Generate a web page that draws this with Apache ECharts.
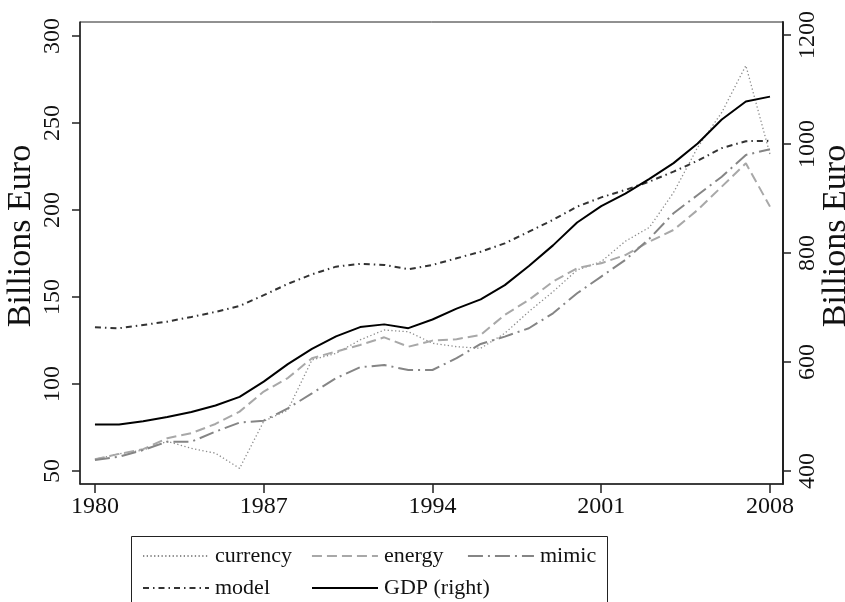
<!DOCTYPE html>
<html>
<head>
<meta charset="utf-8">
<script src="https://cdn.jsdelivr.net/npm/echarts@6/dist/echarts.min.js"></script>
<style>
  html, body { margin: 0; padding: 0; background: #fff; }
  #chart { width: 845px; height: 602px; }
</style>
</head>
<body>
<div id="chart"></div>
<script>
// years on the x axis
const years = [1980, 1981, 1982, 1983, 1984, 1985, 1986, 1987, 1988, 1989,
  1990, 1991, 1992, 1993, 1994, 1995, 1996, 1997, 1998, 1999,
  2000, 2001, 2002, 2003, 2004, 2005, 2006, 2007, 2008]

// left axis series (billions euro)
const currency = [56.7, 59.8, 62, 67, 63, 60.2, 51.5, 78.5, 85, 113.8,
  117.6, 125.3, 131, 130, 123.4, 121.4, 120.5, 129.1, 141.6, 153,
  165.5, 170.3, 182, 190, 210, 236, 256, 283, 232]
const energy = [56.7, 59.8, 62.5, 68.8, 71.7, 77, 84.1, 95.6, 103.4, 114.8,
  118.6, 122.4, 126.8, 121.4, 124.9, 125.7, 128.2, 139.7, 148.3, 158.8,
  166.5, 169.4, 174.1, 181.8, 188.5, 200, 213.4, 226.8, 201.9]
const mimic = [56.3, 58.2, 62, 66.8, 66.8, 72.6, 77.8, 78.9, 86, 94.6,
  103.3, 109.6, 110.9, 108, 108, 114.8, 123, 127.2, 132, 140.6,
  152.1, 161.7, 171.3, 183.5, 198.1, 208.6, 219.1, 231.6, 234.9]
const model = [132.6, 132, 133.9, 135.8, 138.5, 141.4, 144.8, 151, 157.5, 163,
  167.4, 169, 168.4, 165.9, 168.4, 172.2, 176, 180.8, 187.5, 194.3,
  201.9, 207.2, 211.5, 216.3, 222, 228.3, 235.5, 239.5, 239.7]

// right axis series
const gdp = [485, 485, 491, 499, 508, 520, 536, 564, 596, 624,
  647, 664, 669, 662, 678, 698, 715, 741, 776, 814,
  856, 886, 909, 936, 965, 1001, 1045, 1078, 1087]

// tick labels
const xTicks = [1980, 1987, 1994, 2001, 2008]
const leftTicks = [50, 100, 150, 200, 250, 300]
const rightTicks = [400, 600, 800, 1000, 1200]

const serif = '"Liberation Serif", "DejaVu Serif", serif'
const ink = '#222'

const pairs = arr => years.map((y, i) => [y, arr[i]])

const chart = echarts.init(document.getElementById('chart'))

const lineSeries = (name, data, color, width, dash, axis) => ({
  name, type: 'line', data: pairs(data), yAxisIndex: axis,
  symbol: 'none', silent: true,
  itemStyle: { color },
  lineStyle: { color, width, type: dash, cap: 'butt' }
})

const legendText = { fontFamily: serif, fontSize: 22, color: '#111', lineHeight: 24, padding: [0, 0, 0, 1] }

const option = {
  animation: false,
  backgroundColor: '#fff',
  grid: {
    left: 80, right: 62, top: 22, bottom: 118,
    outerBoundsMode: 'none', containLabel: false,
    show: true, borderColor: ink, borderWidth: 1
  },
  legend: [
    {
      data: ['currency', { name: 'energy', textStyle: { width: 64 } }, 'mimic'],
      left: 137, top: 539, itemWidth: 66, itemHeight: 14, itemGap: 19,
      itemStyle: { opacity: 0 },
      textStyle: legendText
    },
    {
      data: [{ name: 'model', textStyle: { width: 77 } }, 'GDP (right)'],
      left: 137, top: 571, itemWidth: 66, itemHeight: 14, itemGap: 19,
      itemStyle: { opacity: 0 },
      textStyle: legendText
    }
  ],
  graphic: [{
    type: 'rect', left: 129, top: 534, silent: true,
    shape: { width: 476, height: 90 },
    style: { fill: 'none', stroke: ink, lineWidth: 1 }
  }],
  xAxis: {
    type: 'value', min: 1979.38, max: 2008.54,
    axisLine: { show: true, onZero: false, lineStyle: { color: ink, width: 1.5 } },
    axisTick: { show: true, length: 9, customValues: xTicks, lineStyle: { color: ink, width: 1.5 } },
    axisLabel: { customValues: xTicks, margin: 11, fontFamily: serif, fontSize: 24, color: '#111', formatter: v => String(v) },
    splitLine: { show: false }
  },
  yAxis: [
    {
      type: 'value', min: 42.5, max: 308, position: 'left',
      name: 'Billions Euro', nameLocation: 'middle', nameGap: 42, nameRotate: 90, nameMoveOverlap: false,
      nameTextStyle: { fontFamily: serif, fontSize: 34, color: '#111', padding: [0, 0, 0, 34] },
      axisLine: { show: true, onZero: false, lineStyle: { color: ink, width: 1.5 } },
      axisTick: { show: true, length: 8, customValues: leftTicks, lineStyle: { color: ink, width: 1.5 } },
      axisLabel: { customValues: leftTicks, rotate: 90, margin: 15, fontFamily: serif, fontSize: 24, color: '#111', formatter: v => String(v) },
      splitLine: { show: false }
    },
    {
      type: 'value', min: 376, max: 1224, position: 'right',
      name: 'Billions Euro', nameLocation: 'middle', nameGap: 36, nameRotate: 90, nameMoveOverlap: false,
      nameTextStyle: { fontFamily: serif, fontSize: 34, color: '#111', padding: [0, 0, 0, 34] },
      axisLine: { show: true, onZero: false, lineStyle: { color: ink, width: 2 } },
      axisTick: { show: true, length: 8, customValues: rightTicks, lineStyle: { color: ink, width: 1.5 } },
      axisLabel: { customValues: rightTicks, rotate: 90, margin: 13, fontFamily: serif, fontSize: 24, color: '#111', formatter: v => String(v) },
      splitLine: { show: false }
    }
  ],
  series: [
    lineSeries('currency', currency, '#8c8c8c', 1.3, [1.3, 2.4], 0),
    lineSeries('energy', energy, '#a8a8a8', 2, [10, 5], 0),
    lineSeries('mimic', mimic, '#858585', 2, [15, 5, 2, 5], 0),
    lineSeries('model', model, '#333333', 2, [6, 4, 1.5, 4], 0),
    lineSeries('GDP (right)', gdp, '#000000', 2, 'solid', 1)
  ]
}

chart.setOption(option)
</script>
</body>
</html>
